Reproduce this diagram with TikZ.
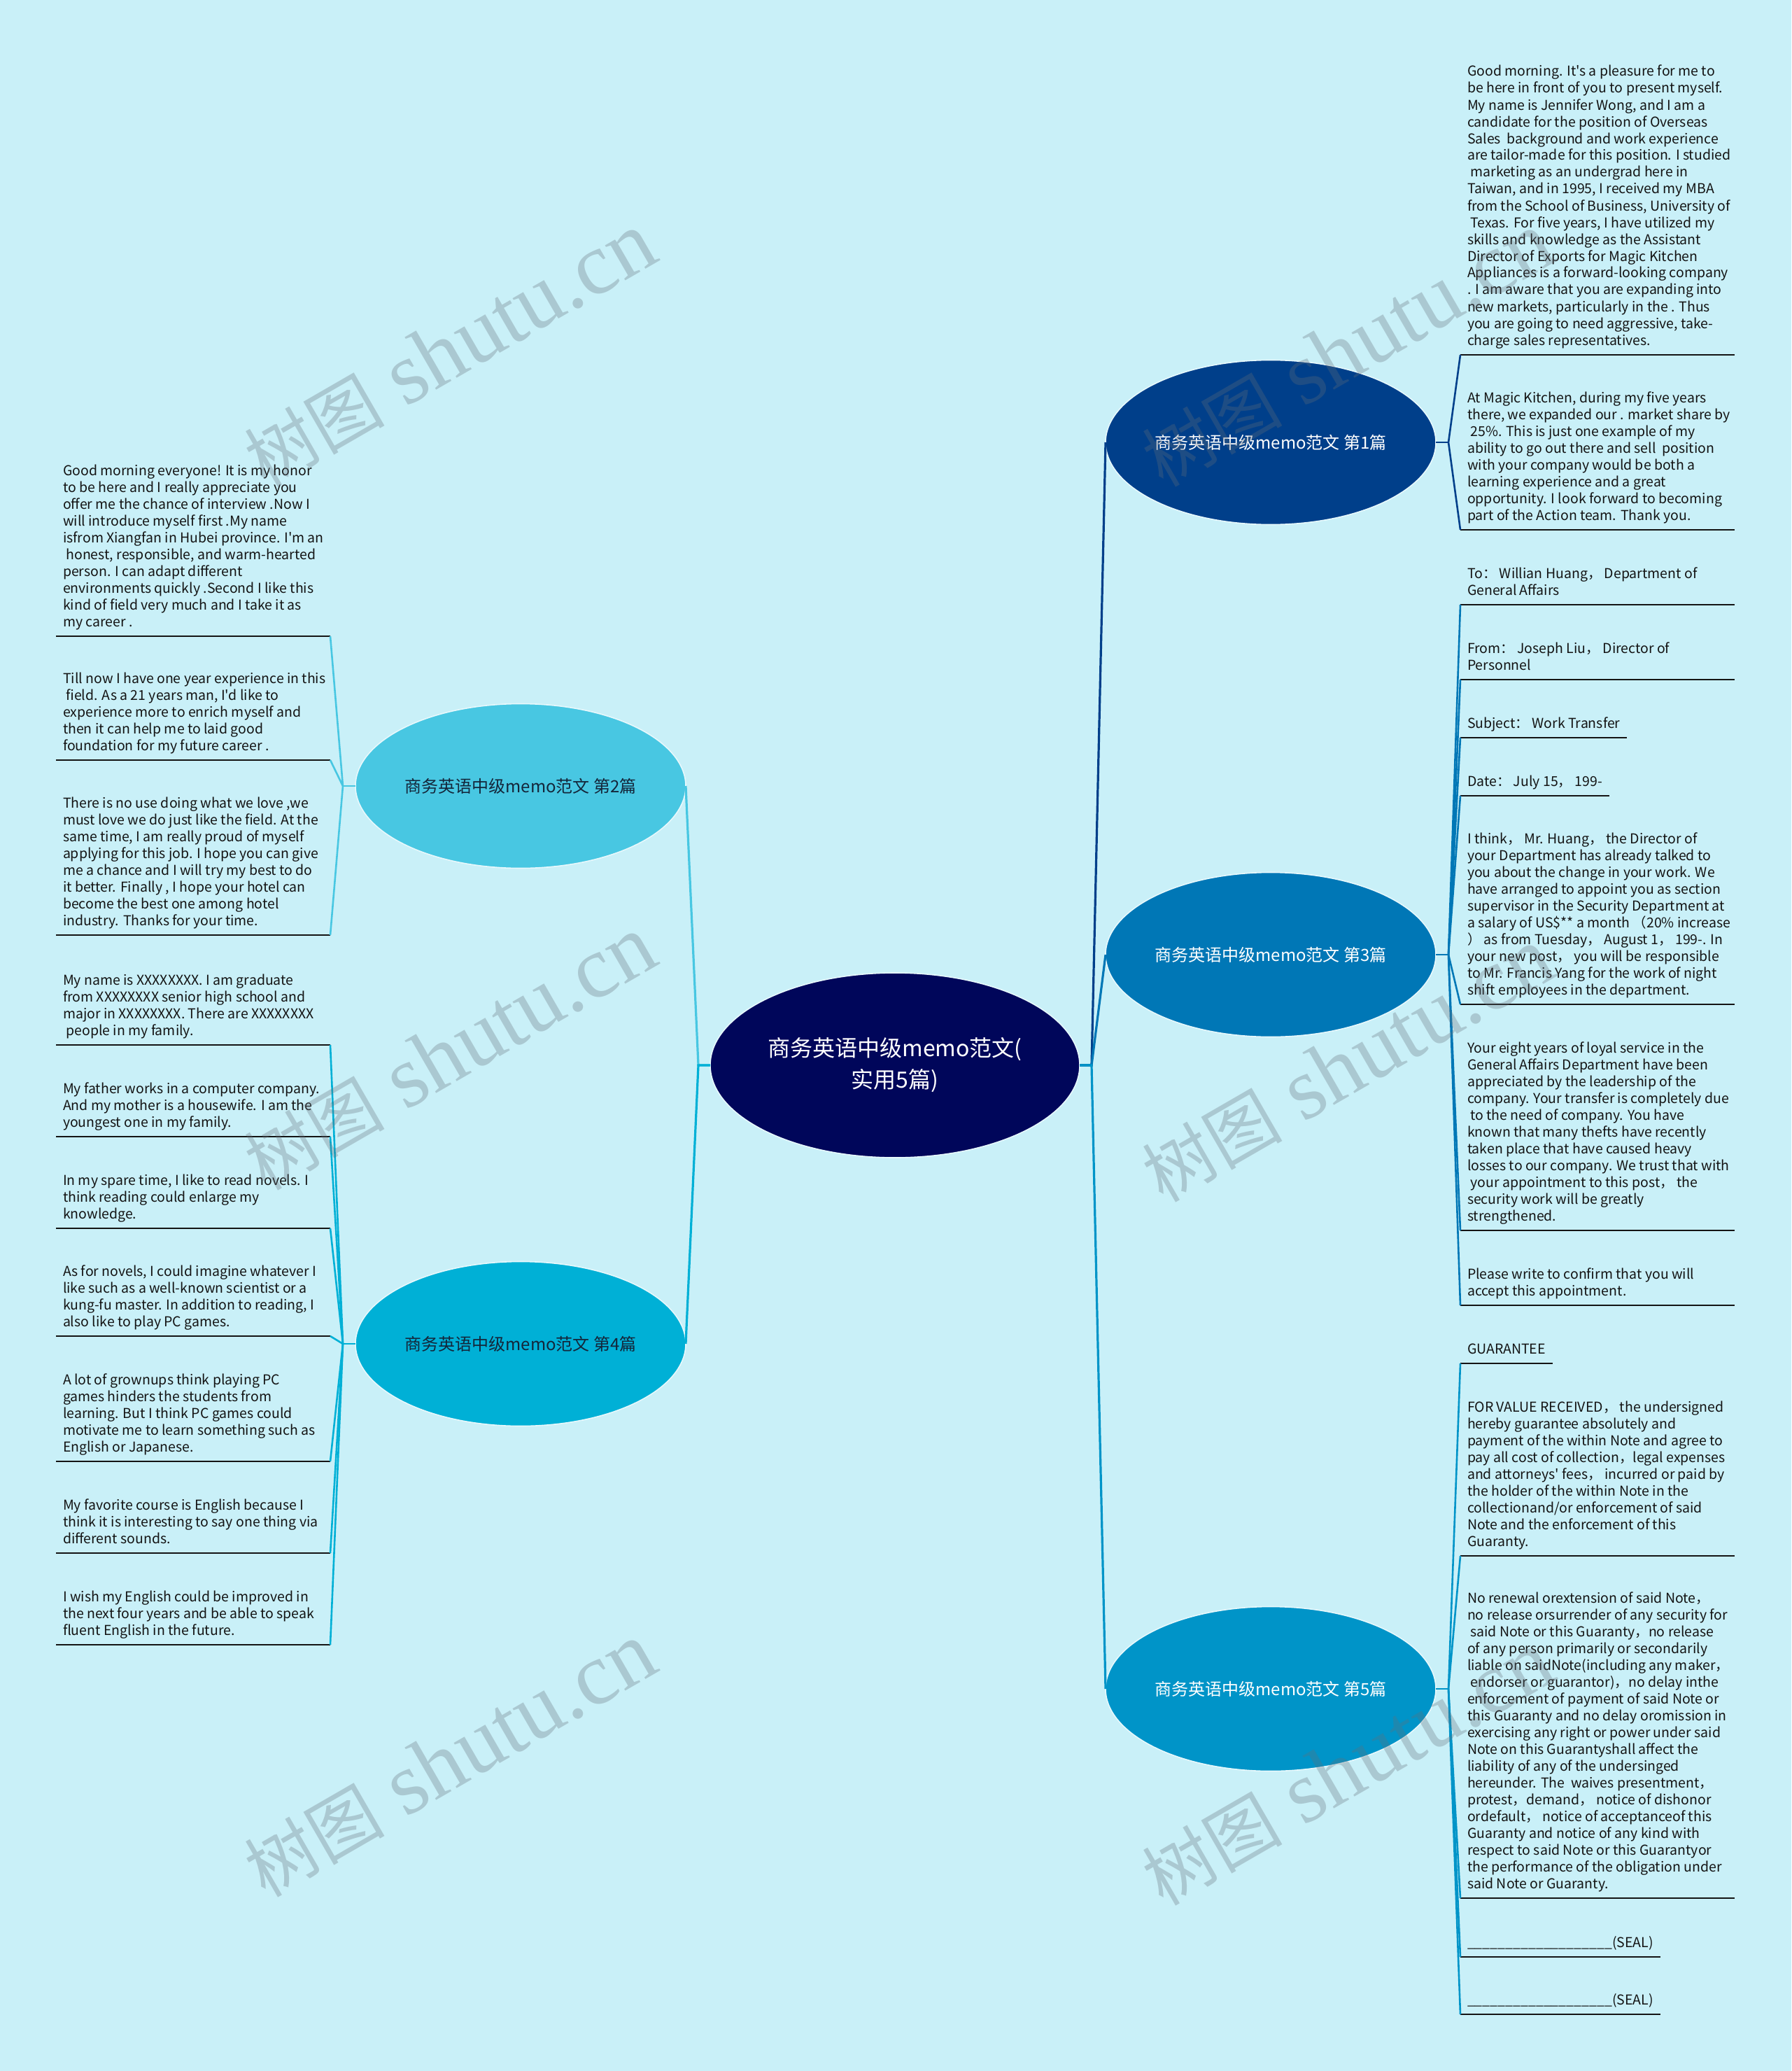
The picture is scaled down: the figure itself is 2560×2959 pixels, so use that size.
\documentclass[tikz,border=0pt]{standalone}
\usepackage{fontspec}
\setmainfont{Noto Sans CJK SC}
\newfontfamily\nsc{Noto Sans CJK SC}
\newfontfamily\wmcjk{Noto Sans CJK SC}
\newfontfamily\wmserif{Liberation Serif}
\usetikzlibrary{shapes.geometric}
\definecolor{bgc}{RGB}{201,240,248}
\definecolor{cc}{RGB}{0,6,90}
\definecolor{bA}{RGB}{0,63,138}
\definecolor{bC}{RGB}{0,119,182}
\definecolor{bE}{RGB}{0,148,200}
\definecolor{bB}{RGB}{72,199,226}
\definecolor{bD}{RGB}{0,176,214}
\definecolor{leaftext}{RGB}{20,20,20}
\definecolor{darklbl}{RGB}{20,38,58}
\definecolor{wm}{RGB}{100,110,120}
\newcommand\leaffont{\nsc\fontsize{9.75}{12}\selectfont}
\newcommand\sealline{\_\_\_\_\_\_\_\_\_\_\_\_\_\_\_\_\_\_\_(SEAL)}
\begin{document}
\begin{tikzpicture}[x=0.5pt,y=-0.5pt,
  ell/.style={ellipse, inner sep=0pt, inner xsep=-40pt, outer sep=0pt, draw=white!55!bgc, line width=0.8pt,
    minimum width=236pt, minimum height=117.5pt, align=center, font=\nsc\fontsize{12}{14}\selectfont},
  leaf/.style={anchor=south west, align=left, inner xsep=5pt, inner ysep=3.4pt, outer sep=0pt,
    text depth=3.6pt, font=\leaffont, text=leaftext},
  uline/.style={line width=1.4pt, draw=black!92},
  conn/.style={line width=1.3pt},
  trunk/.style={line width=1.6pt},
  wmark/.style={text=wm, opacity=0.3, rotate=30, inner sep=0pt}
]
\useasboundingbox (0,0) rectangle (2560,2959);
\fill[bgc] (0,0) rectangle (2560,2959);

% ---------- main nodes ----------
\node[ell, fill=cc, text=white, minimum width=264pt, minimum height=132pt,
      font=\nsc\fontsize{16}{22.5}\selectfont] (c) at (1279,1522) {商务英语中级memo范文(\\实用5篇)};
\node[ell, fill=bA, text=white] (b1) at (1816,632) {商务英语中级memo范文 第1篇};
\node[ell, fill=bC, text=white] (b3) at (1816,1364) {商务英语中级memo范文 第3篇};
\node[ell, fill=bE, text=white] (b5) at (1816,2413) {商务英语中级memo范文 第5篇};
\node[ell, fill=bB, text=darklbl] (b2) at (744,1123) {商务英语中级memo范文 第2篇};
\node[ell, fill=bD, text=darklbl] (b4) at (744,1920) {商务英语中级memo范文 第4篇};

% ---------- trunk connectors ----------
\coordinate (cR) at (1560,1522);
\coordinate (cL) at (998,1522);
\draw[trunk,bA] (c.east) -- (cR) -- (b1.west);
\draw[trunk,bC] (c.east) -- (cR) -- (b3.west);
\draw[trunk,bE] (c.east) -- (cR) -- (b5.west);
\draw[trunk,bB] (c.west) -- (cL) -- (b2.east);
\draw[trunk,bD] (c.west) -- (cL) -- (b4.east);

% ---------- branch 1 leaves ----------
\node[leaf] (l1a) at (2087,507) {Good morning. It's a pleasure for me to\\
be here in front of you to present myself.\\
My name is Jennifer Wong, and I am a\\
candidate for the position of Overseas\\
Sales\ \ background and work experience\\
are tailor-made for this position. I studied\\
\ marketing as an undergrad here in\\
Taiwan, and in 1995, I received my MBA\\
from the School of Business, University of\\
\ Texas. For five years, I have utilized my\\
skills and knowledge as the Assistant\\
Director of Exports for Magic Kitchen\\
Appliances is a forward-looking company\\
. I am aware that you are expanding into\\
new markets, particularly in the . Thus\\
you are going to need aggressive, take-\\
charge sales representatives.};
\node[leaf] (l1b) at (2087,757) {At Magic Kitchen, during my five years\\
there, we expanded our . market share by\\
\ 25\%. This is just one example of my\\
ability to go out there and sell\ \ position\\
with your company would be both a\\
learning experience and a great\\
opportunity. I look forward to becoming\\
part of the Action team. Thank you.};

% ---------- branch 3 leaves ----------
\node[leaf] (l3a) at (2087,864) {To： Willian Huang， Department of\\General Affairs};
\node[leaf] (l3b) at (2087,971) {From： Joseph Liu， Director of\\Personnel};
\node[leaf] (l3c) at (2087,1054) {Subject： Work Transfer};
\node[leaf] (l3d) at (2087,1137) {Date： July 15， 199-};
\node[leaf] (l3e) at (2087,1435) {I think， Mr. Huang， the Director of\\
your Department has already talked to\\
you about the change in your work. We\\
have arranged to appoint you as section\\
supervisor in the Security Department at\\
a salary of US\$** a month （20\% increase\\
） as from Tuesday， August 1， 199-. In\\
your new post， you will be responsible\\
to Mr. Francis Yang for the work of night\\
shift employees in the department.};
\node[leaf] (l3f) at (2087,1758) {Your eight years of loyal service in the\\
General Affairs Department have been\\
appreciated by the leadership of the\\
company. Your transfer is completely due\\
\ to the need of company. You have\\
known that many thefts have recently\\
taken place that have caused heavy\\
losses to our company. We trust that with\\
\ your appointment to this post， the\\
security work will be greatly\\
strengthened.};
\node[leaf] (l3g) at (2087,1865) {Please write to confirm that you will\\accept this appointment.};

% ---------- branch 5 leaves ----------
\node[leaf] (l5a) at (2087,1948) {GUARANTEE};
\node[leaf] (l5b) at (2087,2223) {FOR VALUE RECEIVED， the undersigned\\
hereby guarantee absolutely and\\
payment of the within Note and agree to\\
pay all cost of collection，legal expenses\\
and attorneys' fees， incurred or paid by\\
the holder of the within Note in the\\
collectionand/or enforcement of said\\
Note and the enforcement of this\\
Guaranty.};
\node[leaf] (l5c) at (2087,2712) {No renewal orextension of said Note，\\
no release orsurrender of any security for\\
\ said Note or this Guaranty，no release\\
of any person primarily or secondarily\\
liable on saidNote(including any maker，\\
\ endorser or guarantor)，no delay inthe\\
enforcement of payment of said Note or\\
this Guaranty and no delay oromission in\\
exercising any right or power under said\\
Note on this Guarantyshall affect the\\
liability of any of the undersinged\\
hereunder. The\ \ waives presentment，\\
protest，demand， notice of dishonor\\
ordefault， notice of acceptanceof this\\
Guaranty and notice of any kind with\\
respect to said Note or this Guarantyor\\
the performance of the obligation under\\
said Note or Guaranty.};
\node[leaf] (l5d) at (2087,2796) {\sealline};
\node[leaf] (l5e) at (2087,2878) {\sealline};

% ---------- branch 2 leaves ----------
\node[leaf] (l2a) at (80,909) {Good morning everyone! It is my honor\\
to be here and I really appreciate you\\
offer me the chance of interview .Now I\\
will introduce myself first .My name\\
isfrom Xiangfan in Hubei province. I'm an\\
\ honest, responsible, and warm-hearted\\
person. I can adapt different\\
environments quickly .Second I like this\\
kind of field very much and I take it as\\
my career .};
\node[leaf] (l2b) at (80,1086) {Till now I have one year experience in this\\
\ field. As a 21 years man, I'd like to\\
experience more to enrich myself and\\
then it can help me to laid good\\
foundation for my future career .};
\node[leaf] (l2c) at (80,1336) {There is no use doing what we love ,we\\
must love we do just like the field. At the\\
same time, I am really proud of myself\\
applying for this job. I hope you can give\\
me a chance and I will try my best to do\\
it better. Finally , I hope your hotel can\\
become the best one among hotel\\
industry. Thanks for your time.};

% ---------- branch 4 leaves ----------
\node[leaf] (l4a) at (80,1493) {My name is XXXXXXXX. I am graduate\\
from XXXXXXXX senior high school and\\
major in XXXXXXXX. There are XXXXXXXX\\
\ people in my family.};
\node[leaf] (l4b) at (80,1624) {My father works in a computer company.\\
And my mother is a housewife. I am the\\
youngest one in my family.};
\node[leaf] (l4c) at (80,1755) {In my spare time, I like to read novels. I\\
think reading could enlarge my\\
knowledge.};
\node[leaf] (l4d) at (80,1909) {As for novels, I could imagine whatever I\\
like such as a well-known scientist or a\\
kung-fu master. In addition to reading, I\\
also like to play PC games.};
\node[leaf] (l4e) at (80,2088) {A lot of grownups think playing PC\\
games hinders the students from\\
learning. But I think PC games could\\
motivate me to learn something such as\\
English or Japanese.};
\node[leaf] (l4f) at (80,2219) {My favorite course is English because I\\
think it is interesting to say one thing via\\
different sounds.};
\node[leaf] (l4g) at (80,2350) {I wish my English could be improved in\\
the next four years and be able to speak\\
fluent English in the future.};

% ---------- underlines ----------
\foreach \n in {l1a,l1b,l3a,l3b,l3e,l3f,l3g,l5b,l5c}
  \draw[uline] (\n.south west) -- ++(196pt,0);
\foreach \n in {l3c,l3d,l5a,l5d,l5e}
  \draw[uline] (\n.south west) -- (\n.south east);
\foreach \n in {l2a,l2b,l2c,l4a,l4b,l4c,l4d,l4e,l4f,l4g}
  \draw[uline] (\n.south west) -- ++(196pt,0) coordinate (\n R);

% ---------- leaf connectors ----------
\coordinate (j1) at (2070,632);
\coordinate (j3) at (2070,1364);
\coordinate (j5) at (2070,2413);
\coordinate (j2) at (490,1123);
\coordinate (j4) at (490,1920);
\draw[conn,bA] (b1.east) -- (j1);
\foreach \n in {l1a,l1b} \draw[conn,bA] (j1) -- (\n.south west);
\draw[conn,bC] (b3.east) -- (j3);
\foreach \n in {l3a,l3b,l3c,l3d,l3e,l3f,l3g} \draw[conn,bC] (j3) -- (\n.south west);
\draw[conn,bE] (b5.east) -- (j5);
\foreach \n in {l5a,l5b,l5c,l5d,l5e} \draw[conn,bE] (j5) -- (\n.south west);
\draw[conn,bB] (b2.west) -- (j2);
\foreach \n in {l2a,l2b,l2c} \draw[conn,bB] (j2) -- (\n R);
\draw[conn,bD] (b4.west) -- (j4);
\foreach \n in {l4a,l4b,l4c,l4d,l4e,l4f,l4g} \draw[conn,bD] (j4) -- (\n R);

% ---------- watermarks ----------
\foreach \p/\k in {{(643,500)}/1,{(643,1505)}/2,{(643,2515)}/3,{(1926,500)}/4,{(1926,1522)}/5,{(1926,2527)}/6}
  \node[wmark] (w\k) at \p {{\wmcjk\fontsize{50}{58}\selectfont 树图}\hspace{15pt}{\wmserif\fontsize{63}{68}\selectfont shutu.cn}};
\end{tikzpicture}
\end{document}
